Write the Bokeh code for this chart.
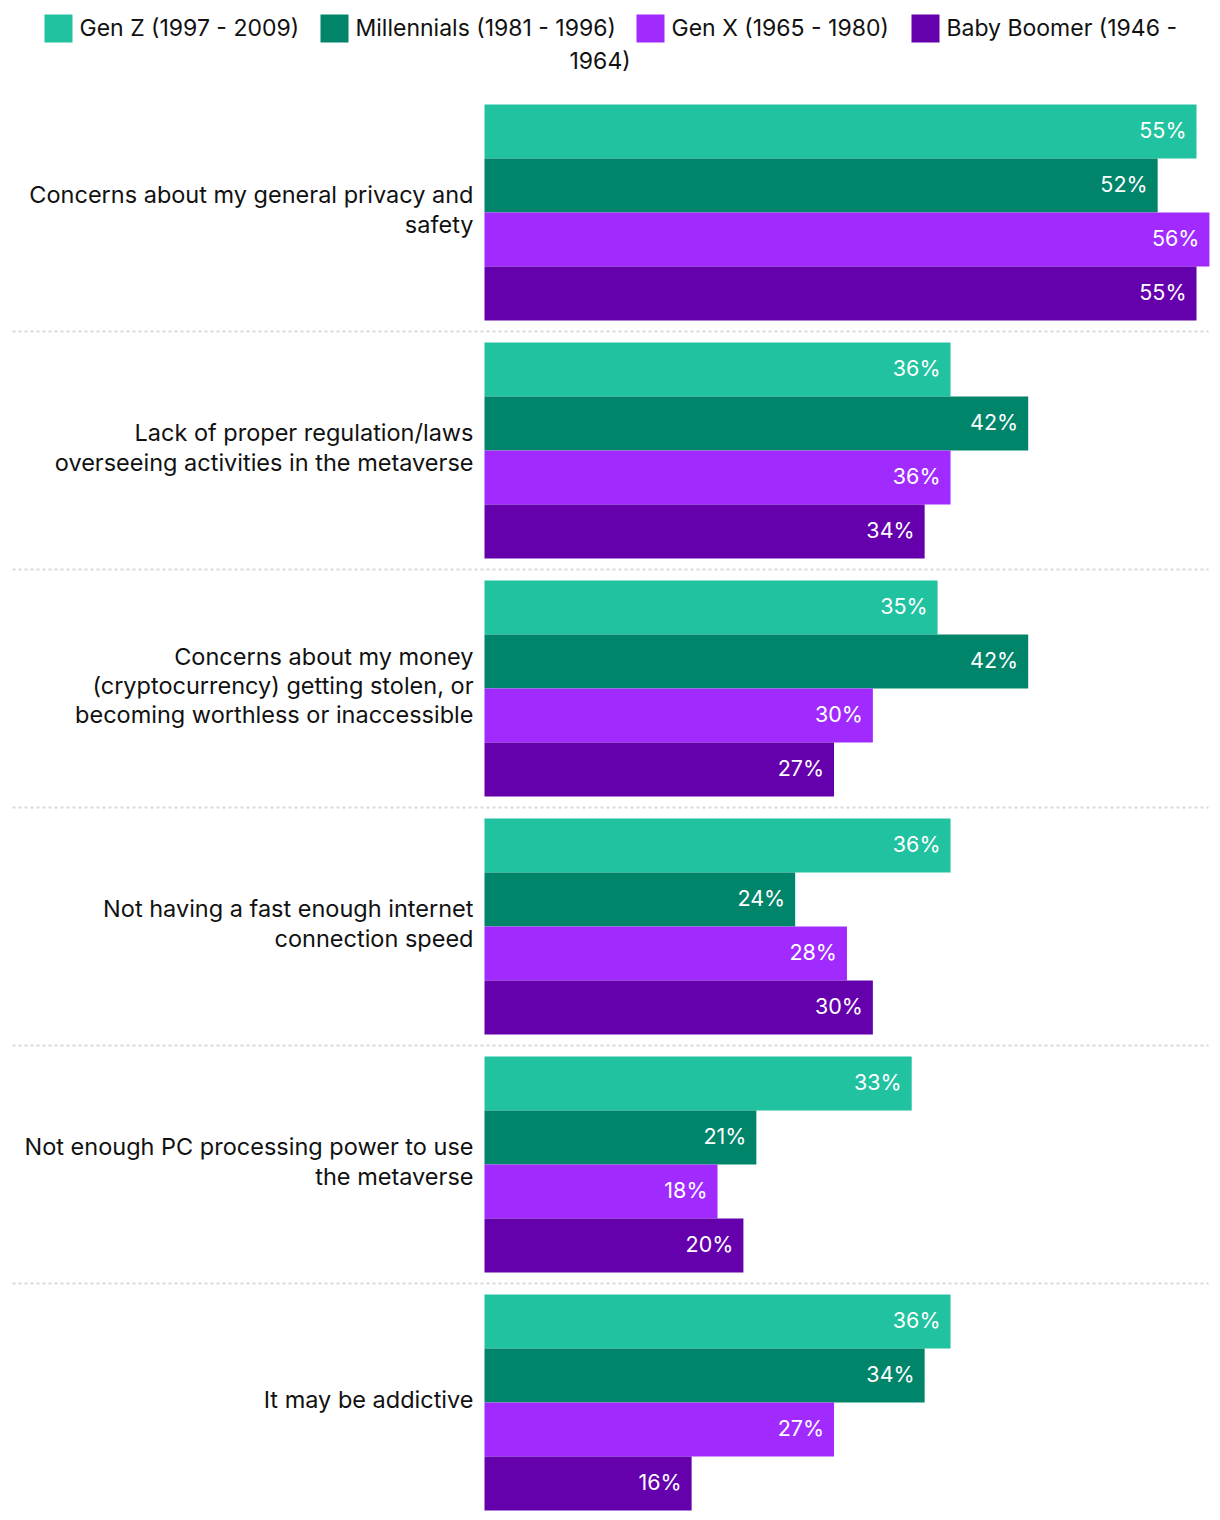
from bokeh.plotting import figure
from bokeh.models import Range1d, ColumnDataSource
from bokeh.core.properties import value
from bokeh.embed import file_html
from bokeh.resources import INLINE

categories = [
    "Concerns about my general privacy and\nsafety",
    "Lack of proper regulation/laws\noverseeing activities in the metaverse",
    "Concerns about my money\n(cryptocurrency) getting stolen, or\nbecoming worthless or inaccessible",
    "Not having a fast enough internet\nconnection speed",
    "Not enough PC processing power to use\nthe metaverse",
    "It may be addictive",
]
series = ["Gen Z (1997 - 2009)", "Millennials (1981 - 1996)", "Gen X (1965 - 1980)", "Baby Boomer (1946 - 1964)"]
gen_z = [55, 36, 35, 36, 33, 36]
millennials = [52, 42, 42, 24, 21, 34]
gen_x = [56, 36, 30, 28, 18, 27]
boomers = [55, 34, 27, 30, 20, 16]
colors = ["#20C2A0", "#00856B", "#A12BFF", "#6500AD"]

FONT = value("Inter")
W, H = 1212, 1512
TOP = 104      # y of first bar top
BAR = 54
PITCH = 238
PX_PER = 712 / 55.0
ZERO = 484

p = figure(width=W, height=H, output_backend="svg", toolbar_location=None,
           x_range=Range1d(-ZERO / PX_PER, (W - ZERO) / PX_PER),
           y_range=Range1d(H, 0), min_border=0)
p.extra_x_ranges = {"px": Range1d(0, W)}
p.axis.visible = False
p.grid.visible = False
p.outline_line_color = None
p.background_fill_color = "white"

vals = [gen_z, millennials, gen_x, boomers]
for si, (name, v, c) in enumerate(zip(series, vals, colors)):
    ys = [TOP + gi * PITCH + si * BAR + BAR / 2 for gi in range(len(categories))]
    src = ColumnDataSource(dict(y=ys, ty=[y - 2 for y in ys], right=v, lab=[f"{x}%" for x in v]))
    p.hbar(y="y", left=0, right="right", height=BAR, color=c, line_color=None, source=src)
    p.text(x="right", y="ty", text="lab", source=src, text_align="right", text_baseline="middle",
           x_offset=-10, text_color="white", text_font=FONT, text_font_size="21.5px")

# category labels
cy = [TOP + gi * PITCH + 2 * BAR - 3 for gi in range(len(categories))]
p.text(x=[473] * len(categories), y=cy, text=categories, x_range_name="px",
       text_align="right", text_baseline="middle", text_color="#111111",
       text_font=FONT, text_font_size="23.5px", text_line_height=1.01)

# separators
for gi in range(1, len(categories)):
    yy = TOP + gi * PITCH - 11
    p.line(x=[12, 1208], y=[yy, yy], x_range_name="px", line_color="#d9d9d9",
           line_width=2, line_dash="3 3")

# legend
sq_x = [44, 320, 636, 911]
for name, c, sx in zip(series, colors, sq_x):
    p.rect(x=[sx + 14], y=[28], width=28, height=28, width_units="screen", height_units="screen",
           x_range_name="px", color=c, line_color=None)
    lines = [name] if name != series[-1] else name.rsplit(" ", 1)
    p.text(x=[sx + 35], y=[27], text=[lines[0]], x_range_name="px", text_align="left",
           text_baseline="middle", text_color="#111111", text_font=FONT, text_font_size="23px")
    if len(lines) > 1:
        p.text(x=[569], y=[60], text=[lines[1]], x_range_name="px", text_align="left",
               text_baseline="middle", text_color="#111111", text_font=FONT, text_font_size="23px")

open("out.html", "w").write(file_html(p, INLINE))
